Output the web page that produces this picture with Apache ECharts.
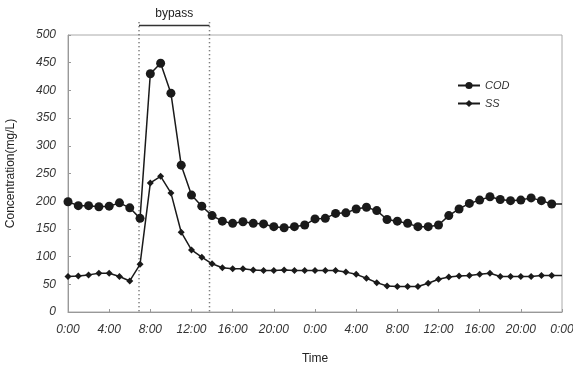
<!DOCTYPE html>
<html>
<head>
<meta charset="utf-8">
<script src="https://cdn.jsdelivr.net/npm/echarts@6/dist/echarts.min.js"></script>
<style>
html, body { margin: 0; padding: 0; background: #fff; }
#main { width: 573px; height: 373px; }
</style>
</head>
<body>
<div id="main"></div>
<script>
//COD 每小时浓度 (0:00 - 次日0:00)
var codValues = [199, 192, 192, 190, 191, 197, 188, 169, 430, 449, 395, 265, 211, 191, 174, 164,
	160, 163, 160, 159, 154, 152, 154, 157, 168, 169, 178, 179, 186, 189, 183, 167,
	164, 160, 154, 154, 157, 174, 186, 196, 202, 208, 203, 201, 202, 206, 201, 195, 195];
//SS 每小时浓度
var ssValues = [64, 65, 67, 70, 70, 64, 56, 86, 233, 245, 215, 144, 112, 99, 87, 80,
	78, 78, 76, 75, 75, 76, 75, 75, 75, 75, 75, 72, 68, 61, 53, 47,
	46, 46, 46, 52, 59, 63, 65, 66, 68, 70, 64, 64, 64, 64, 66, 66, 66];
//bypass 时段(小时)
var bypassRange = [6.9, 13.75];
var bypassLabel = 'bypass';
//y轴刻度
var yTicks = [0, 500, 50];

var fontName = '"Liberation Sans", Arial, sans-serif';
var lineColor = '#1a1a1a';

//最后一个点只画线不画标记
var toPairs = function(arr) {
	return arr.map(function(v, i) {
		if(i == arr.length - 1) {
			return { value: [i, v], symbol: 'none' };
		}
		return [i, v];
	});
};

var chart = echarts.init(document.getElementById('main'));
chart.setOption({
	backgroundColor: '#fff',
	animation: false,
	grid: {
		left: 68,
		right: 11,
		top: 35,
		bottom: 61,
		outerBoundsMode: 'none',
		show: true,
		borderColor: '#aaa',
		borderWidth: 1
	},
	legend: {
		orient: 'vertical',
		left: 452,
		top: 75,
		itemGap: 7,
		itemWidth: 22,
		itemHeight: 9,
		textStyle: { fontFamily: fontName, fontSize: 11, fontStyle: 'italic', color: '#333' },
		data: ['COD', 'SS']
	},
	xAxis: {
		type: 'value',
		min: 0,
		max: 48,
		interval: 4,
		name: 'Time',
		nameLocation: 'middle',
		nameGap: 41,
		nameTextStyle: { fontFamily: fontName, fontSize: 12, color: '#222' },
		splitLine: { show: false },
		axisLine: { lineStyle: { color: '#999' } },
		axisTick: { inside: true, length: 3, lineStyle: { color: '#999' } },
		axisLabel: {
			fontFamily: fontName, fontSize: 12, fontStyle: 'italic', color: '#333', margin: 12,
			formatter: function(v) { return (v % 24) + ':00'; }
		}
	},
	yAxis: {
		type: 'value',
		min: yTicks[0],
		max: yTicks[1],
		interval: yTicks[2],
		name: 'Concentration(mg/L)',
		nameLocation: 'middle',
		nameGap: 51,
		nameTextStyle: { fontFamily: fontName, fontSize: 12, color: '#222' },
		splitLine: { show: false },
		axisLine: { show: true, lineStyle: { color: '#999' } },
		axisTick: { show: true, inside: true, length: 3, lineStyle: { color: '#999' } },
		axisLabel: { fontFamily: fontName, fontSize: 12, fontStyle: 'italic', color: '#333', margin: 12 }
	},
	series: [{
		name: 'COD',
		type: 'line',
		data: toPairs(codValues),
		symbol: 'circle',
		symbolSize: 9,
		itemStyle: { color: lineColor },
		lineStyle: { color: lineColor, width: 1.5 }
	}, {
		name: 'SS',
		type: 'line',
		data: toPairs(ssValues),
		symbol: 'diamond',
		symbolSize: 7,
		itemStyle: { color: lineColor },
		lineStyle: { color: lineColor, width: 1.5 }
	}]
});

//bypass 标注, 坐标由坐标轴换算
var p0 = chart.convertToPixel({ xAxisIndex: 0, yAxisIndex: 0 }, [bypassRange[0], 0]);
var p1 = chart.convertToPixel({ xAxisIndex: 0, yAxisIndex: 0 }, [bypassRange[1], 0]);
var pTop = chart.convertToPixel({ xAxisIndex: 0, yAxisIndex: 0 }, [0, 523]);
var pBar = chart.convertToPixel({ xAxisIndex: 0, yAxisIndex: 0 }, [0, 517]);
var pText = chart.convertToPixel({ xAxisIndex: 0, yAxisIndex: 0 }, [0, 538]);
var dotStyle = { stroke: '#555', lineWidth: 1.5, lineDash: [1, 3] };
chart.setOption({
	graphic: [{
		type: 'line', silent: true,
		shape: { x1: p0[0], y1: pTop[1], x2: p0[0], y2: p0[1] },
		style: dotStyle
	}, {
		type: 'line', silent: true,
		shape: { x1: p1[0], y1: pTop[1], x2: p1[0], y2: p1[1] },
		style: dotStyle
	}, {
		type: 'line', silent: true,
		shape: { x1: p0[0], y1: pBar[1], x2: p1[0], y2: pBar[1] },
		style: { stroke: '#333', lineWidth: 1.5 }
	}, {
		type: 'text', silent: true,
		x: (p0[0] + p1[0]) / 2,
		y: pText[1],
		style: {
			text: bypassLabel, fill: '#222', font: '12px ' + fontName,
			textAlign: 'center', textVerticalAlign: 'middle'
		}
	}]
});
</script>
</body>
</html>
